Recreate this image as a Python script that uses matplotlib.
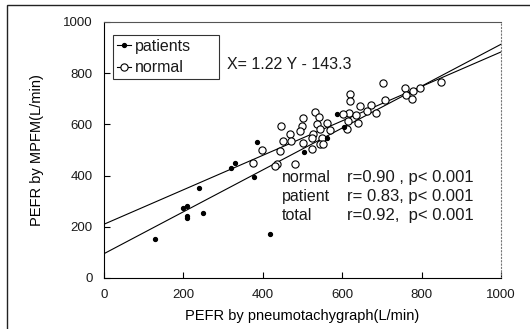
import matplotlib
matplotlib.use('Agg')
import matplotlib.pyplot as plt
from matplotlib.patches import Rectangle

plt.rcParams['font.family'] = ['Liberation Sans', 'DejaVu Sans']
plt.rcParams['text.color'] = '#1a1a1a'
plt.rcParams['xtick.labelcolor'] = '#1a1a1a'
plt.rcParams['ytick.labelcolor'] = '#1a1a1a'

# patients (filled dots): pneumotachograph vs MPFM
patients_x = [128, 198, 210, 208, 210, 250, 239, 319, 329, 378, 418, 386, 504, 562, 588, 605]
patients_y = [153, 275, 283, 242, 233, 255, 353, 431, 450, 395, 173, 532, 493, 548, 639, 590]

# normal subjects (open circles)
normal_x = [703, 620, 620, 758, 779, 797, 761, 777, 708, 645, 672, 663, 685, 618, 603, 636,
            531, 542, 502, 561, 537, 640, 615, 447, 498, 544, 494, 569, 527, 548, 469, 452,
            472, 502, 523, 523, 544, 443, 481, 435, 397, 376, 850, 613, 431, 552]
normal_y = [763, 720, 691, 741, 730, 741, 715, 698, 694, 672, 674, 652, 646, 646, 639, 637,
            650, 629, 624, 607, 600, 607, 613, 594, 594, 581, 574, 577, 561, 548, 561, 535,
            535, 529, 546, 503, 522, 496, 444, 444, 499, 450, 767, 581, 438, 522]

# regression lines, endpoints at x=0 and x=1000
line_x = [0, 1000]
line_a_y = [95, 913]
line_b_y = [210, 883]

equation = 'X= 1.22 Y - 143.3'
stat_names = ['normal', 'patient', 'total']
stat_values = ['r=0.90 , p< 0.001', 'r= 0.83, p< 0.001', 'r=0.92,  p< 0.001']

fig = plt.figure(figsize=(5.3, 3.29), dpi=100)
ax = fig.add_axes([104 / 530, 1 - 278 / 329, 397 / 530, 256 / 329])

# outer frame of the scanned figure (only top and left edges visible)
fig.patches.append(Rectangle((7 / 530, -0.5), 1.5, 1 - 5 / 329 + 0.5, transform=fig.transFigure,
                             fill=False, edgecolor='#222222', linewidth=1.0))

ax.plot(line_x, line_a_y, color='black', linewidth=0.8)
ax.plot(line_x, line_b_y, color='black', linewidth=0.8)

ax.plot(normal_x, normal_y, linestyle='none', marker='o', markersize=5.2,
        markerfacecolor='white', markeredgecolor='black', markeredgewidth=0.8, label='normal')
ax.plot(patients_x, patients_y, linestyle='none', marker='o', markersize=2.8,
        color='black', label='patients')

ax.set_xlim(0, 1000)
ax.set_ylim(0, 1000)
ax.set_xticks([0, 200, 400, 600, 800, 1000])
ax.set_yticks([0, 200, 400, 600, 800, 1000])
ax.tick_params(direction='in', length=4, width=0.8, labelsize=9.5, pad=8)
for s in ax.spines.values():
    s.set_linewidth(0.8)
ax.spines['right'].set_linestyle((0, (1, 2)))
ax.spines['right'].set_color('#777777')
ax.spines['top'].set_color('#555555')

ax.set_xlabel('PEFR by pneumotachygraph(L/min)', fontsize=10.5, labelpad=6)
ax.set_ylabel('PEFR by MPFM(L/min)', fontsize=10.5, labelpad=14)

h_pat, = ax.plot([], [], marker='o', markersize=2.8, color='black', linewidth=0.8)
h_nor, = ax.plot([], [], marker='o', markersize=5.2, markerfacecolor='white',
                 markeredgecolor='black', color='black', linewidth=0.8, markeredgewidth=0.8)
leg = ax.legend([h_pat, h_nor], ['patients', 'normal'], loc='upper left',
                bbox_to_anchor=(0.023, 0.762, 0.267, 0.188), mode='expand',
                fontsize=11.5, frameon=True, fancybox=False,
                handlelength=0.9, handletextpad=0.2, borderpad=0.25, labelspacing=0.4,
                borderaxespad=0)
leg.get_frame().set_edgecolor('black')
leg.get_frame().set_linewidth(0.8)

ax.text(309, 834, equation, fontsize=11.5, va='center', ha='left')
for i, (name, val) in enumerate(zip(stat_names, stat_values)):
    yy = 392 - i * 74
    ax.text(447, yy, name, fontsize=11.5, va='center', ha='left')
    ax.text(611, yy, val, fontsize=12, va='center', ha='left')

fig.savefig('out.png', dpi=100)
